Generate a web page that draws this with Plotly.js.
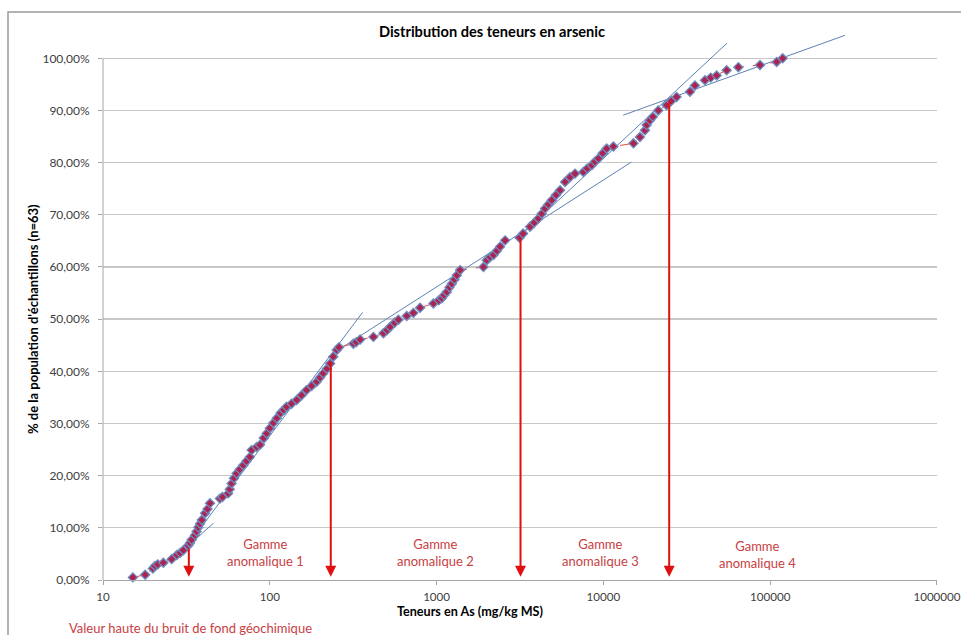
<!DOCTYPE html>
<html>
<head>
<meta charset="utf-8">
<script src="https://cdn.plot.ly/plotly-3.0.1.min.js"></script>
<style>
  html, body { margin: 0; padding: 0; background: #fff; }
  #chart { width: 961px; height: 635px; }
</style>
</head>
<body>
<div id="chart"></div>
<script>
// Arsenic content (mg/kg MS) and cumulative share of the sample population (%)
const teneurAs = [
  15.1, 17.9, 19.9, 20.5, 21.3, 23, 25.8, 27.7, 29, 30.3,
  32.4, 33.2, 34, 35.6, 36.4, 37.3, 38.2, 39.1, 40.9, 42.3,
  43.8, 50.2, 52, 56.3, 57.5, 59, 61, 63.2, 66, 69.3,
  72.5, 76, 77.8, 83.4, 87.3, 92, 95.7, 100, 105, 110,
  116, 121, 126, 135, 145, 155, 166, 178, 191, 200,
  209, 220, 230, 240, 252, 260, 317, 330, 348, 418,
  480, 505, 526, 560, 590, 662, 726, 796, 957, 1030,
  1074, 1110, 1151, 1195, 1234, 1280, 1322, 1384, 1909, 2000,
  2090, 2193, 2300, 2404, 2576, 3140, 3300, 3631, 3850, 4074,
  4270, 4467, 4680, 4898, 5200, 5496, 5890, 6300, 6761, 7586,
  8000, 8511, 8900, 9333, 9900, 10470, 11480, 15140, 16560, 17750,
  18160, 19020, 19800, 21320, 23930, 25500, 27480, 33040, 35400, 40640,
  44000, 47750, 54830, 64420, 86900, 109400, 118800
];
const populationPct = [
  0.5, 1.0, 2.2, 2.7, 3.0, 3.3, 4.0, 4.8, 5.2, 5.7,
  6.6, 7.1, 7.7, 8.6, 9.3, 10.1, 10.8, 11.5, 12.8, 13.6,
  14.7, 15.6, 15.9, 16.6, 17.4, 18.5, 19.5, 20.4, 21.2, 22.0,
  22.8, 23.6, 24.9, 25.5, 25.9, 27.2, 28.1, 29.1, 30.1, 31.0,
  32.0, 32.6, 33.2, 33.8, 34.5, 35.4, 36.4, 37.2, 38.0, 38.8,
  39.6, 40.5, 41.5, 42.8, 44.1, 44.6, 45.3, 45.6, 46.1, 46.6,
  47.3, 47.9, 48.5, 49.3, 49.9, 50.6, 51.2, 52.2, 53.0, 53.6,
  54.0, 54.6, 55.2, 56.1, 56.8, 57.6, 58.4, 59.4, 60.0, 61.3,
  61.9, 62.3, 63.1, 63.9, 65.1, 65.6, 66.4, 67.7, 68.5, 69.3,
  70.2, 71.2, 72.0, 72.8, 73.8, 74.7, 76.3, 77.2, 77.9, 78.2,
  78.9, 79.5, 80.2, 80.8, 81.8, 82.7, 83.1, 83.7, 84.9, 86.2,
  87.2, 88.1, 88.8, 90.0, 91.0, 91.8, 92.6, 93.6, 94.8, 95.8,
  96.3, 96.7, 97.7, 98.3, 98.7, 99.3, 100.0
];

// Straight-line fits drawn over each population segment: [start, end]
const trendBruitX = [31, 46],     trendBruitY = [6.0, 10.9];
const trendGamme1X = [34, 360],   trendGamme1Y = [7.7, 51.3];
const trendGamme2X = [246, 14700], trendGamme2Y = [43.7, 80.1];
const trendGamme3X = [3160, 55100], trendGamme3Y = [65.9, 102.9];
const trendGamme4X = [13150, 280500], trendGamme4Y = [89.1, 104.4];

// Thresholds between populations: concentration and cumulative % where they start
const seuilsAs = [32.7, 232, 3185, 24800];
const seuilsPct = [6.3, 42.1, 65.7, 92.0];

// Axis ticks
const yTicks = [0, 10, 20, 30, 40, 50, 60, 70, 80, 90, 100];
const yTickText = ["0,00%", "10,00%", "20,00%", "30,00%", "40,00%", "50,00%",
                   "60,00%", "70,00%", "80,00%", "90,00%", "100,00%"];
const xTicks = [10, 100, 1000, 10000, 100000, 1000000];
const xTickText = ["10", "100", "1000", "10000", "100000", "1000000"];

// Range labels
const gammeLabels = ["Gamme<br>anomalique 1", "Gamme<br>anomalique 2",
                     "Gamme<br>anomalique 3", "Gamme<br>anomalique 4"];
const bruitLabel = "Valeur haute du bruit de fond géochimique";

const FONT = "Lato, 'Open Sans', sans-serif";
const RED_TEXT = "#c8403f";
const ARROW_RED = "#e01010";
const TREND_BLUE = "#5b82b5";

// pixel helpers for text placement (plot area spans x 103..937, y 27..580)
const L = 103, R = 937, T = 27, B = 580;
const px = (x) => (x - L) / (R - L);
const py = (y) => (B - y) / (B - T);

const trendTrace = (xs, ys) => ({
  x: xs, y: ys, type: "scatter", mode: "lines",
  line: { color: TREND_BLUE, width: 1 }, hoverinfo: "skip", showlegend: false
});

const traces = [
  trendTrace(trendBruitX, trendBruitY),
  trendTrace(trendGamme1X, trendGamme1Y),
  trendTrace(trendGamme2X, trendGamme2Y),
  trendTrace(trendGamme3X, trendGamme3Y),
  trendTrace(trendGamme4X, trendGamme4Y),
  {
    x: teneurAs, y: populationPct, type: "scatter", mode: "lines+markers",
    line: { color: "#e24b4b", width: 1, dash: "dash" },
    marker: { symbol: "diamond", size: 7, color: "#ad2350",
              line: { color: "#6d8cc0", width: 1.3 } },
    showlegend: false, cliponaxis: false
  }
];

const annotations = [];

// vertical threshold arrows, from the curve down to the x axis
seuilsAs.forEach((v, i) => {
  annotations.push({
    xref: "x", yref: "y", axref: "x", ayref: "y",
    x: Math.log10(v), y: 0.6, ax: Math.log10(v), ay: seuilsPct[i],
    text: "", showarrow: true, arrowhead: 2, arrowsize: 1.1, arrowwidth: 2,
    arrowcolor: ARROW_RED, standoff: 0, startstandoff: 0
  });
});

// range labels between the arrows
const gammePos = [[265, 552], [435, 552], [600, 552], [757, 554]];
gammeLabels.forEach((t, i) => {
  annotations.push({
    xref: "paper", yref: "paper", x: px(gammePos[i][0]), y: py(gammePos[i][1]),
    xanchor: "center", yanchor: "middle", showarrow: false, text: t,
    font: { family: FONT, size: 13, color: RED_TEXT }, align: "center"
  });
});

annotations.push({
  xref: "paper", yref: "paper", x: px(67), y: py(628),
  xanchor: "left", yanchor: "middle", showarrow: false, text: bruitLabel,
  font: { family: FONT, size: 13, color: RED_TEXT }
});

// axis titles
annotations.push({
  xref: "paper", yref: "paper", x: px(470), y: py(611),
  xanchor: "center", yanchor: "middle", showarrow: false,
  text: "<b>Teneurs en As (mg/kg MS)</b>",
  font: { family: FONT, size: 12.6, color: "#000" }
});
annotations.push({
  xref: "paper", yref: "paper", x: px(33), y: py(319),
  xanchor: "center", yanchor: "middle", showarrow: false, textangle: -90,
  text: "<b>% de la population d'échantillons (n=63)</b>",
  font: { family: FONT, size: 13, color: "#000" }
});

const layout = {
  width: 961, height: 635,
  margin: { l: L, r: 961 - R, t: T, b: 635 - B },
  paper_bgcolor: "#fff", plot_bgcolor: "#fff",
  showlegend: false,
  title: {
    text: "<b>Distribution des teneurs en arsenic</b>",
    font: { family: FONT, size: 14.6, color: "#000" },
    xref: "paper", x: px(492), xanchor: "center",
    yref: "container", y: 1 - 32 / 635, yanchor: "middle"
  },
  xaxis: {
    type: "log", range: [0.9999, 6.0001],
    tickvals: xTicks, ticktext: xTickText,
    showgrid: false, zeroline: false,
    showline: true, linecolor: "#a6a6a6", linewidth: 1,
    ticks: "outside", ticklen: 4, tickcolor: "#a6a6a6",
    ticklabeloverflow: "allow", ticklabelstandoff: 2,
    tickfont: { family: FONT, size: 11.6, color: "#404040" }
  },
  yaxis: {
    range: [0, 106],
    tickvals: yTicks, ticktext: yTickText,
    showgrid: true, gridcolor: "#c8c8c8", gridwidth: 1.3,
    zeroline: false, showline: false,
    ticks: "outside", ticklen: 4, tickcolor: "#a6a6a6",
    ticklabelstandoff: 6,
    tickfont: { family: FONT, size: 12, color: "#404040" }
  },
  shapes: [
    // left axis line, up to 100 %
    { type: "line", xref: "paper", yref: "y", x0: 0, x1: 0, y0: 0, y1: 100,
      line: { color: "#a6a6a6", width: 1 } },
    // chart frame
    { type: "rect", xref: "paper", yref: "paper",
      x0: px(8), x1: px(975), y0: py(650), y1: py(12),
      line: { color: "#9a9a9a", width: 1.5 }, fillcolor: "rgba(0,0,0,0)", layer: "below" }
  ],
  annotations: annotations
};

Plotly.newPlot("chart", traces, layout, { displayModeBar: false, staticPlot: true });
</script>
</body>
</html>
